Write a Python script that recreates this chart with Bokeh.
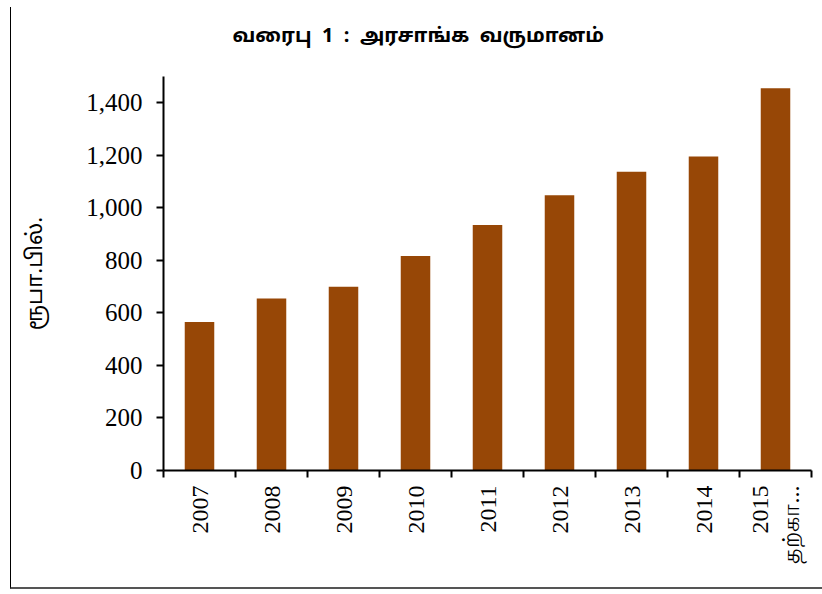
import numpy as np
from bokeh.plotting import figure
from bokeh.models import Range1d, LinearAxis, FixedTicker, Title, NumeralTickFormatter
from bokeh.embed import file_html
from bokeh.resources import INLINE

# data
years = ["2007", "2008", "2009", "2010", "2011", "2012", "2013", "2014", "2015\nதற்கா..."]
revenue = [565, 655, 700, 817, 935, 1048, 1137, 1195, 1455]
y_ticks = [0, 200, 400, 600, 800, 1000, 1200, 1400]
title_text = "வரைபு\u00a0\u00a01\u00a0\u00a0:\u00a0\u00a0அரசாங்க\u00a0\u00a0வருமானம்"
y_label = "ரூபா.பில்."

TAMIL = "Noto Sans Tamil, Noto Sans, Latha, sans-serif"
SERIF = "Liberation Serif"

xpos = np.arange(len(years)) + 0.5

p = figure(width=812, height=582, output_backend="svg", toolbar_location=None,
           x_range=Range1d(0, len(years)), y_range=Range1d(0, 1500),
           x_axis_location=None, y_axis_location=None,
           min_border_left=152, min_border_right=12, min_border_top=69, min_border_bottom=119,
           title=None)
p.styles = {"margin-left": "10px", "margin-top": "7px", "border-left": "1px solid #000000",
            "border-bottom": "2px solid #555555"}
p.outline_line_color = None
p.xgrid.visible = False
p.ygrid.visible = False
p.background_fill_color = "white"
p.border_fill_color = "white"

p.vbar(x=xpos, top=revenue, width=0.41, fill_color="#974706", line_color=None)

# y axis
ya = LinearAxis(ticker=FixedTicker(ticks=y_ticks, minor_ticks=[]),
                formatter=NumeralTickFormatter(format="0,0"))
ya.axis_line_color = "black"
ya.axis_line_width = 2
ya.major_tick_line_width = 2
ya.major_tick_out = 7
ya.major_tick_in = 0
ya.minor_tick_out = 0
ya.minor_tick_in = 0
ya.major_label_text_font = SERIF
ya.major_label_text_font_size = "25px"
ya.major_label_text_color = "black"
ya.major_label_standoff = 14
p.add_layout(ya, "left")

# y-axis caption: a second, blank line keeps it clear of the tick labels
yt = Title(text=y_label + "\n\u00a0", align="center", text_font=TAMIL,
           text_font_size="22px", text_font_style="normal", text_color="black",
           standoff=14)
p.add_layout(yt, "left")

# x axis: labels at centers, tick marks at category boundaries (minor ticks)
xa = LinearAxis(ticker=FixedTicker(ticks=list(xpos), minor_ticks=list(range(len(years) + 1))))
xa.major_label_overrides = {float(x): lab for x, lab in zip(xpos, years)}
xa.major_label_orientation = np.pi / 2
xa.axis_line_color = "black"
xa.axis_line_width = 2
xa.major_tick_out = 0
xa.major_tick_in = 0
xa.minor_tick_out = 7
xa.minor_tick_in = 0
xa.minor_tick_line_width = 2
xa.minor_tick_line_color = "black"
xa.major_label_text_font = SERIF
xa.major_label_text_font_size = "24px"
xa.major_label_text_color = "black"
xa.major_label_standoff = 8
p.add_layout(xa, "below")

t = Title(text=title_text + "\n\u00a0", align="left", offset=69, text_font=TAMIL,
          text_font_size="20px", text_font_style="bold", text_color="black",
          standoff=8)
p.add_layout(t, "above")

open("out.html", "w").write(file_html(p, INLINE))
